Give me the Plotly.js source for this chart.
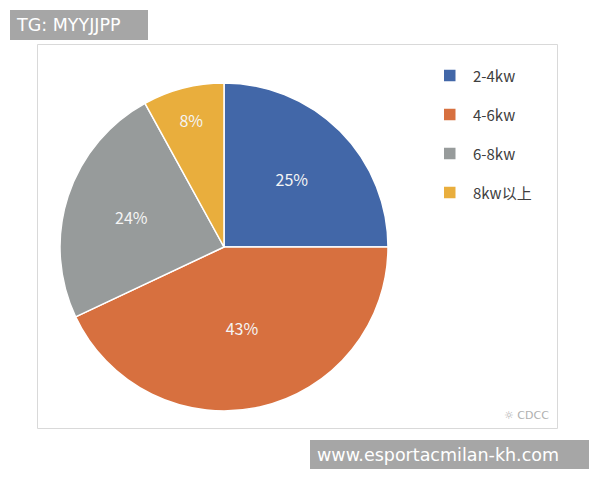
<!DOCTYPE html>
<html>
<head>
<meta charset="utf-8">
<script src="https://cdn.plot.ly/plotly-3.0.1.min.js"></script>
<style>html,body{margin:0;padding:0;background:#fff;}</style>
</head>
<body>
<div id="chart" style="width:600px;height:480px;"></div>
<script>
// Data
const categories = ['2-4kw', '4-6kw', '6-8kw', '8kw以上'];
const shares = [25, 43, 24, 8];
const colors = ['#4267A8', '#D7703F', '#979B9B', '#E9AE3D'];

const W = 600, H = 480;
const px = x => x / W;
const py = y => 1 - y / H;

const trace = {
  type: 'pie',
  labels: categories,
  values: shares,
  sort: false,
  direction: 'clockwise',
  rotation: 0,
  marker: { colors: colors, line: { color: '#FFFFFF', width: 1.5 } },
  textinfo: 'percent',
  texttemplate: '%{percent:.0%}',
  textposition: 'inside',
  insidetextorientation: 'horizontal',
  insidetextfont: { family: 'Noto Sans CJK SC, Noto Sans, sans-serif', size: 16, color: '#F4F4F4' },
  hoverinfo: 'label+percent',
  domain: { x: [px(60), px(388)], y: [py(411), py(83)] },
  showlegend: false
};

const shapes = [
  // chart frame
  { type: 'rect', xref: 'paper', yref: 'paper', x0: px(37.5), x1: px(557.5), y0: py(428.5), y1: py(44.5),
    line: { color: '#D9D9D9', width: 1 }, fillcolor: 'rgba(0,0,0,0)', layer: 'below' },
  // watermark boxes
  { type: 'rect', xref: 'paper', yref: 'paper', x0: px(10), x1: px(148), y0: py(40), y1: py(10),
    line: { width: 0 }, fillcolor: '#A6A6A6' },
  { type: 'rect', xref: 'paper', yref: 'paper', x0: px(310), x1: px(589), y0: py(469), y1: py(440),
    line: { width: 0 }, fillcolor: '#A6A6A6' }
];

const annotations = [
  { xref: 'paper', yref: 'paper', x: px(14), y: py(25), xanchor: 'left', yanchor: 'middle', showarrow: false,
    text: 'TG: MYYJJPP', font: { family: 'DejaVu Sans, sans-serif', size: 17.5, color: '#FFFFFF' } },
  { xref: 'paper', yref: 'paper', x: px(315), y: py(454.5), xanchor: 'left', yanchor: 'middle', showarrow: false,
    text: 'www.esportacmilan-kh.com', font: { family: 'DejaVu Sans, sans-serif', size: 17.5, color: '#FFFFFF' } },
  { xref: 'paper', yref: 'paper', x: px(551), y: py(415), xanchor: 'right', yanchor: 'middle', showarrow: false,
    text: '☼ CDCC', font: { family: 'DejaVu Sans, sans-serif', size: 11, color: '#B0B0B0' } }
];

// legend built from categories
const legendTop = 75.5, legendStep = 39;
categories.forEach((c, i) => {
  const yc = legendTop + i * legendStep;
  shapes.push({ type: 'rect', xref: 'paper', yref: 'paper', x0: px(444), x1: px(455.5), y0: py(yc + 5.75), y1: py(yc - 5.75),
    line: { width: 0 }, fillcolor: colors[i] });
  annotations.push({ xref: 'paper', yref: 'paper', x: px(471), y: py(yc), xanchor: 'left', yanchor: 'middle', showarrow: false,
    text: c, font: { family: 'Noto Sans CJK SC, Noto Sans, sans-serif', size: 15, color: '#404040' } });
});

const layout = {
  width: W, height: H,
  margin: { l: 0, r: 0, t: 0, b: 0 },
  paper_bgcolor: '#FFFFFF',
  showlegend: false,
  shapes: shapes,
  annotations: annotations
};

Plotly.newPlot('chart', [trace], layout, { displayModeBar: false, staticPlot: true });
</script>
</body>
</html>
